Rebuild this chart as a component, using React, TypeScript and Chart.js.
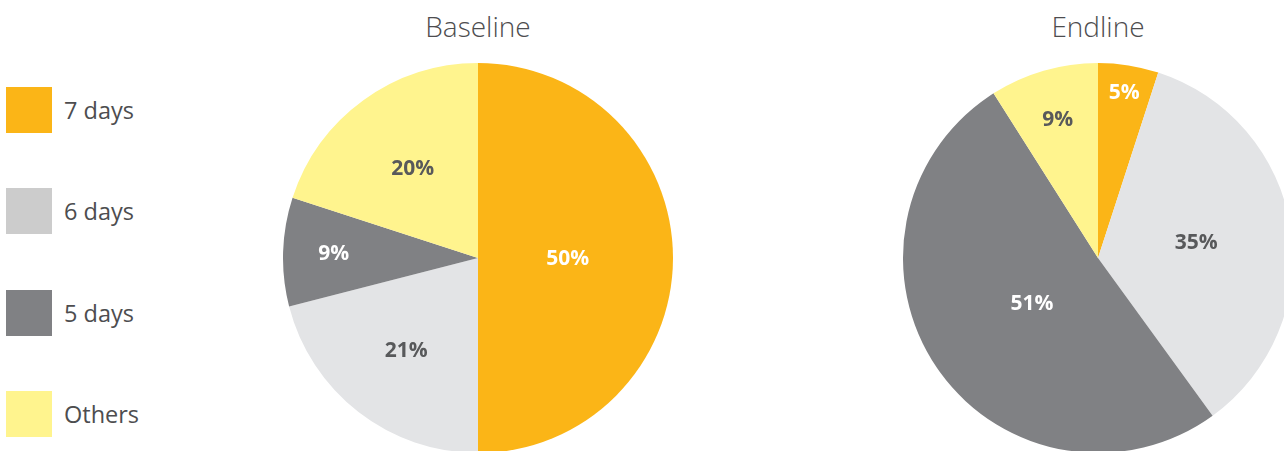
import React, { useEffect, useRef } from "react";
import { Chart, registerables } from "chart.js";

Chart.register(...registerables);

const categories = ["7 days", "6 days", "5 days", "Others"];
const baselineValues = [50, 21, 9, 20];
const endlineValues = [5, 35, 51, 9];
const sliceColors = ["#FBB517", "#E3E4E6", "#808184", "#FFF48E"];
const legendColors = ["#FBB517", "#CCCCCC", "#808184", "#FFF48E"];
const baselineLabelColors = ["#FFFFFF", "#58595B", "#FFFFFF", "#58595B"];
const endlineLabelColors = ["#FFFFFF", "#58595B", "#FFFFFF", "#58595B"];
// radial placement of the value labels (fraction of the radius)
const baselineLabelRadius = [0.46, 0.6, 0.74, 0.57];
const endlineLabelRadius = [0.86, 0.51, 0.41, 0.74];

const FONT = "'Open Sans', 'Noto Sans', sans-serif";

const labelPlugin = {
  id: "sliceLabels",
  afterDatasetsDraw(chart: any, _args: any, opts: any) {
    const ctx = chart.ctx;
    const meta = chart.getDatasetMeta(0);
    const data = chart.data.datasets[0].data as number[];
    ctx.save();
    ctx.font = `700 21px ${FONT}`;
    ctx.textAlign = "center";
    ctx.textBaseline = "middle";
    meta.data.forEach((arc: any, i: number) => {
      const p = arc.getProps(["x", "y", "startAngle", "endAngle", "outerRadius"], true);
      const mid = (p.startAngle + p.endAngle) / 2;
      const r = p.outerRadius * opts.radius[i];
      ctx.fillStyle = opts.colors[i];
      ctx.fillText(`${data[i]}%`, p.x + Math.cos(mid) * r, p.y + Math.sin(mid) * r + 1);
    });
    ctx.restore();
  },
};

function Pie({ values, labelColors, labelRadius }: { values: number[]; labelColors: string[]; labelRadius: number[] }) {
  const ref = useRef<HTMLCanvasElement>(null);
  useEffect(() => {
    const chart = new Chart(ref.current!, {
      type: "pie",
      data: {
        labels: categories,
        datasets: [{ data: values, backgroundColor: sliceColors, borderWidth: 0 }],
      },
      options: {
        animation: false,
        responsive: false,
        layout: { padding: 0 },
        plugins: {
          legend: { display: false },
          tooltip: { enabled: false },
          sliceLabels: { colors: labelColors, radius: labelRadius },
        } as any,
      },
      plugins: [labelPlugin],
    });
    return () => chart.destroy();
  }, []);
  return <canvas ref={ref} width={390} height={390} style={{ width: 390, height: 390 }} />;
}

export default function App() {
  return (
    <div
      style={{
        position: "fixed",
        left: 0,
        top: 0,
        width: 1284,
        height: 451,
        overflow: "hidden",
        background: "#FFFFFF",
        fontFamily: FONT,
      }}
    >
      {categories.map((c, i) => (
        <div key={c} style={{ position: "absolute", left: 6, top: 87 + i * 101.3, height: 46, display: "flex", alignItems: "center" }}>
          <div style={{ width: 46, height: 46, background: legendColors[i] }} />
          <div style={{ marginLeft: 12, fontSize: 23.5, color: "#4D4D4F", fontWeight: 400 }}>{c}</div>
        </div>
      ))}
      <div style={{ position: "absolute", left: 278, width: 400, top: 7, textAlign: "center", fontSize: 28, color: "#4D4D4F", fontWeight: 300 }}>
        Baseline
      </div>
      <div style={{ position: "absolute", left: 898, width: 400, top: 7, textAlign: "center", fontSize: 28, color: "#4D4D4F", fontWeight: 300 }}>
        Endline
      </div>
      <div style={{ position: "absolute", left: 283, top: 63 }}>
        <Pie values={baselineValues} labelColors={baselineLabelColors} labelRadius={baselineLabelRadius} />
      </div>
      <div style={{ position: "absolute", left: 903, top: 63 }}>
        <Pie values={endlineValues} labelColors={endlineLabelColors} labelRadius={endlineLabelRadius} />
      </div>
    </div>
  );
}
